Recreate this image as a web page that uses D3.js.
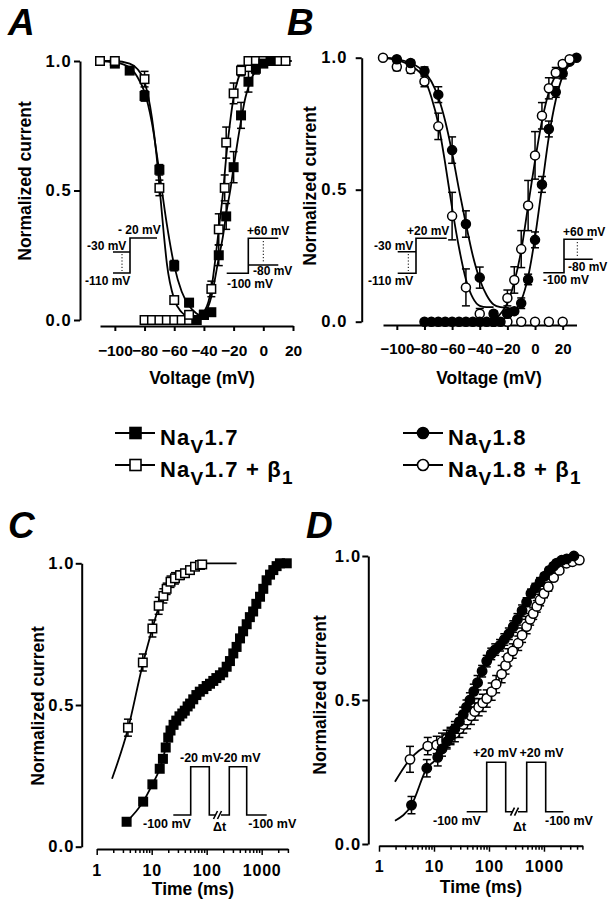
<!DOCTYPE html>
<html>
<head>
<meta charset="utf-8">
<script src="https://cdn.jsdelivr.net/npm/d3@7"></script>
<style>
  body { margin: 0; background: #fff; }
  svg text { font-family: "Liberation Sans", Arial, Helvetica, sans-serif; font-weight: bold; fill: #000; }
</style>
</head>
<body>
<svg id="fig" width="613" height="899"></svg>
<script>
// ---------- data ----------

// A : NaV1.7 steady-state inactivation / activation
const voltA17Inact = [-110, -100, -90, -80, -70, -60, -50, -40];
const nav17Inact = [1.0, 0.99, 0.963, 0.865, 0.58, 0.21, 0.067, 0.02];
const nav17InactErr = [0, 0, 0.01, 0.02, 0.02, 0.02, 0.015, 0];
const voltA17bInact = [-110, -100, -80, -70, -60, -50];
const nav17bInact = [1.0, 1.0, 0.93, 0.51, 0.077, 0.02];
const nav17bInactErr = [0, 0, 0.03, 0.03, 0.01, 0];

const voltA17Act = [-45, -40, -35, -30, -25, -20, -15, -10, -5, 0, 5];
const nav17Act = [0.0, 0.02, 0.03, 0.25, 0.40, 0.59, 0.79, 0.92, 0.97, 0.99, 1.0];
const nav17ActErr = [0, 0.01, 0.01, 0.04, 0.05, 0.06, 0.05, 0.04, 0.02, 0, 0];
const voltA17bAct = [-80, -75, -70, -65, -60, -55, -50, -45, -40, -35, -30, -26, -25, -20, -15, -10, -5, 0, 5, 10, 15];
const nav17bAct = [0, 0, 0, 0, 0, 0, 0, 0, 0.02, 0.12, 0.35, 0.51, 0.685, 0.875, 0.963, 1, 1, 1, 1, 1, 1];
const nav17bActErr = [0, 0, 0, 0, 0, 0, 0, 0, 0.01, 0.03, 0.06, 0.05, 0.06, 0.04, 0.02, 0, 0, 0, 0, 0, 0];

const fitA17Inact = [[-112, 1], [-100, 0.995], [-90, 0.975], [-85, 0.94], [-80, 0.88], [-75, 0.76], [-70, 0.57], [-65, 0.37], [-60, 0.21], [-55, 0.11], [-50, 0.055], [-45, 0.025], [-40, 0.01]];
const fitA17bInact = [[-112, 1], [-100, 1], [-90, 0.99], [-85, 0.97], [-80, 0.92], [-75, 0.78], [-72, 0.64], [-70, 0.52], [-67, 0.33], [-65, 0.22], [-60, 0.08], [-55, 0.03], [-50, 0.01], [-45, 0]];
const fitA17Act = [[-45, 0], [-40, 0.02], [-35, 0.09], [-30, 0.24], [-27, 0.33], [-25, 0.41], [-22, 0.51], [-20, 0.59], [-17, 0.7], [-15, 0.77], [-12, 0.86], [-10, 0.9], [-5, 0.965], [0, 0.99], [5, 1], [19, 1]];
const fitA17bAct = [[-45, 0], [-40, 0.03], [-37, 0.07], [-35, 0.12], [-32, 0.25], [-30, 0.35], [-27, 0.5], [-25, 0.63], [-22, 0.78], [-20, 0.86], [-17, 0.93], [-15, 0.96], [-10, 0.99], [-5, 1], [19, 1]];

// B : NaV1.8
const voltB18Inact = [-100, -90, -80, -70, -60, -50, -40, -30, -20];
const nav18Inact = [0.994, 0.98, 0.95, 0.86, 0.65, 0.37, 0.167, 0.03, 0.03];
const nav18InactErr = [0.01, 0.01, 0.015, 0.03, 0.05, 0.05, 0.04, 0.01, 0];
const voltB18bInact = [-110, -100, -90, -80, -70, -60, -50, -40, -30, -20, -10, 0, 10, 20];
const nav18bInact = [1.0, 0.966, 0.956, 0.91, 0.74, 0.40, 0.13, 0.03, 0, 0, 0, 0, 0, 0];
const nav18bInactErr = [0, 0.015, 0.015, 0.02, 0.05, 0.09, 0.07, 0.02, 0, 0, 0, 0, 0, 0];

const voltB18Act = [-80, -75, -70, -65, -60, -55, -50, -45, -40, -35, -30, -25, -20, -15, -10, -5, 0, 5, 10, 15, 20, 25, 30];
const nav18Act = [0, 0, 0, 0, 0, 0, 0, 0, 0, 0, 0, 0, 0.03, 0.04, 0.07, 0.16, 0.31, 0.52, 0.73, 0.87, 0.94, 0.985, 1.0];
const nav18ActErr = [0, 0, 0, 0, 0, 0, 0, 0, 0, 0, 0, 0, 0.01, 0.01, 0.02, 0.02, 0.03, 0.03, 0.03, 0.02, 0.02, 0.01, 0];
const voltB18bAct = [-20, -15, -10, -5, 0, 5, 10, 15, 20, 25];
const nav18bAct = [0.09, 0.158, 0.275, 0.44, 0.63, 0.78, 0.884, 0.943, 0.976, 0.994];
const nav18bActErr = [0.03, 0.05, 0.07, 0.095, 0.09, 0.05, 0.04, 0.02, 0.01, 0];

const fitB18Inact = [[-110, 1], [-100, 0.995], [-90, 0.98], [-80, 0.945], [-75, 0.91], [-70, 0.85], [-65, 0.76], [-60, 0.64], [-55, 0.5], [-50, 0.37], [-45, 0.25], [-40, 0.16], [-35, 0.1], [-30, 0.065], [-25, 0.055], [-15, 0.05]];
const fitB18bInact = [[-110, 1], [-100, 0.99], [-90, 0.97], [-80, 0.92], [-75, 0.85], [-70, 0.75], [-65, 0.6], [-60, 0.43], [-55, 0.28], [-50, 0.16], [-45, 0.09], [-40, 0.06], [-35, 0.055], [-30, 0.055]];
const fitB18Act = [[-25, 0.0], [-20, 0.02], [-15, 0.04], [-10, 0.08], [-5, 0.17], [0, 0.32], [5, 0.51], [10, 0.7], [15, 0.84], [20, 0.93], [25, 0.975], [30, 0.99]];
const fitB18bAct = [[-30, 0.0], [-25, 0.03], [-20, 0.07], [-15, 0.15], [-10, 0.27], [-5, 0.44], [0, 0.61], [5, 0.76], [10, 0.87], [15, 0.935], [20, 0.97], [25, 0.99]];

// C : NaV1.7 recovery from inactivation (ms)
const timeC17 = [3.5, 7, 10.3, 14, 16, 18, 20, 22, 25, 28, 32, 36, 40, 45, 50, 57, 65, 75, 87, 100, 115, 132, 150, 174, 200, 231, 265, 305, 350, 404, 460, 534, 610, 700, 800, 934, 1070, 1230, 1420, 1630, 1870, 2150, 2860];
const nav17Rec = [0.088, 0.159, 0.22, 0.275, 0.31, 0.35, 0.385, 0.41, 0.43, 0.445, 0.46, 0.47, 0.48, 0.495, 0.505, 0.52, 0.535, 0.547, 0.556, 0.567, 0.575, 0.585, 0.595, 0.605, 0.615, 0.635, 0.655, 0.682, 0.705, 0.735, 0.76, 0.785, 0.81, 0.83, 0.857, 0.882, 0.91, 0.94, 0.96, 0.976, 0.99, 1.0, 1.0];
const timeC17b = [3.7, 6.9, 10.3, 13.4, 16.3, 18.7, 22, 26.5, 32.7, 40.3, 49.7, 61.3, 75.5, 83];
const nav17bRec = [0.42, 0.65, 0.77, 0.85, 0.885, 0.91, 0.935, 0.947, 0.958, 0.965, 0.976, 0.988, 0.994, 0.996];
const nav17bRecErr = [0.03, 0.03, 0.03, 0.03, 0.025, 0.02, 0.02, 0.02, 0.015, 0.01, 0.01, 0.01, 0, 0];
const fitC17b = [[1.9, 0.24], [3.7, 0.415], [6.9, 0.645], [10.3, 0.77], [13.4, 0.845], [16.3, 0.89], [20, 0.92], [26, 0.95], [33, 0.965], [45, 0.98], [60, 0.99], [85, 1.0], [350, 1.0]];

// D : NaV1.8 recovery from inactivation (ms)
const timeD18 = [3.9, 7.4, 11.7, 14, 17, 20, 24, 29, 34, 39, 45, 53, 62, 75, 91, 110, 130, 159, 190, 230, 277, 330, 400, 484, 580, 700, 850, 1030, 1250, 1500, 1700, 2100, 2600, 3500];
const nav18Rec = [0.135, 0.263, 0.301, 0.33, 0.355, 0.375, 0.4, 0.425, 0.45, 0.475, 0.5, 0.53, 0.56, 0.6, 0.635, 0.66, 0.675, 0.69, 0.71, 0.73, 0.755, 0.78, 0.81, 0.84, 0.87, 0.89, 0.91, 0.93, 0.95, 0.965, 0.975, 0.985, 0.99, 1.0];
const nav18RecErr = [0.03, 0.03, 0.03, 0.025, 0.025, 0.025, 0.025, 0.025, 0.025, 0.025, 0.025, 0.025, 0.025, 0.02, 0.02, 0.02, 0.02, 0.02, 0.02, 0.02, 0.02, 0.02, 0.02, 0.015, 0.015, 0.015, 0.015, 0.01, 0.01, 0.01, 0.01, 0.01, 0.01, 0];
const timeD18b = [3.66, 7.7, 11.2, 14, 17, 20, 24, 29, 34, 40, 47, 55, 65, 77, 91, 112, 135, 170, 200, 224, 270, 340, 400, 484, 560, 637, 740, 850, 1000, 1200, 1500, 1900, 2570, 3300, 4400];
const nav18bRec = [0.294, 0.34, 0.344, 0.355, 0.365, 0.375, 0.385, 0.4, 0.415, 0.43, 0.445, 0.46, 0.475, 0.49, 0.505, 0.529, 0.555, 0.59, 0.62, 0.648, 0.67, 0.697, 0.725, 0.755, 0.78, 0.8, 0.825, 0.847, 0.87, 0.893, 0.925, 0.95, 0.975, 0.98, 0.986];
const nav18bRecErr = [0.045, 0.03, 0.03, 0.03, 0.03, 0.03, 0.03, 0.03, 0.03, 0.03, 0.03, 0.03, 0.03, 0.03, 0.03, 0.03, 0.03, 0.03, 0.03, 0.03, 0.025, 0.025, 0.025, 0.025, 0.02, 0.02, 0.02, 0.02, 0.015, 0.015, 0.01, 0.01, 0.01, 0.01, 0.01];
const fitD18Start = [1.95, 0.081];
const fitD18bStart = [1.95, 0.216];

// axis ticks
const yTicks = [0, 0.5, 1.0];
const voltTicksA = [-100, -80, -60, -40, -20, 0, 20];
const voltTicksB = [-100, -80, -60, -40, -20, 0, 20];
const timeMajor = [1, 10, 100, 1000];

// legend
const legendNames = ["1.7", "1.7", "1.8", "1.8"];
const legendBeta = [false, true, false, true];

// ---------- drawing ----------
const svg = d3.select("#fig");

const xA = d3.scaleLinear().domain([-110, 20]).range([100, 293]);
const yA = d3.scaleLinear().domain([0, 1]).range([320, 61]);
const xB = d3.scaleLinear().domain([-110, 30]).range([383, 576.5]);
const yB = d3.scaleLinear().domain([0, 1]).range([321.7, 57.7]);
const xC = d3.scaleLog().domain([1, 3000]).range([96.7, 287.9]);
const yC = d3.scaleLinear().domain([0, 1]).range([846.7, 563.3]);
const xD = d3.scaleLog().domain([1, 5000]).range([379, 582.4]);
const yD = d3.scaleLinear().domain([0, 1]).range([844, 556]);

function styleAxis(g, size) {
    g.select(".domain").attr("stroke", "#000").attr("stroke-width", 2);
    g.selectAll(".tick line").attr("stroke", "#000").attr("stroke-width", 2);
    g.selectAll("text")
        .attr("font-family", '"Liberation Sans", Arial, sans-serif')
        .attr("font-weight", "bold")
        .attr("font-size", size)
        .attr("fill", "#000");
}

function yAxis(sc, xPos, pad) {
    const g = svg.append("g")
        .attr("transform", "translate(" + xPos + ",0)")
        .call(d3.axisLeft(sc).tickValues(yTicks).tickFormat(d3.format(".1f")).tickSize(6).tickSizeOuter(0).tickPadding(pad));
    styleAxis(g, 16.5);
    g.selectAll("text").attr("letter-spacing", 1.2);
}

function xAxisLin(sc, yPos, ticks, pad, size) {
    const g = svg.append("g")
        .attr("transform", "translate(0," + yPos + ")")
        .call(d3.axisBottom(sc).tickValues(ticks).tickSize(5).tickSizeOuter(0).tickPadding(pad));
    styleAxis(g, size);
}

function xAxisLog(sc, yPos, pad) {
    const [lo, hi] = sc.domain();
    const vals = [];
    for (let k = 1; k <= hi; k *= 10)
        for (let m = 1; m < 10; m++) if (m * k >= lo && m * k <= hi) vals.push(m * k);
    const g = svg.append("g")
        .attr("transform", "translate(0," + yPos + ")")
        .call(d3.axisBottom(sc).tickValues(vals).tickSize(6).tickSizeOuter(0).tickPadding(pad)
            .tickFormat(d => timeMajor.includes(d) ? String(d) : ""));
    styleAxis(g, 16);
    g.selectAll(".tick line").attr("y2", d => timeMajor.includes(d) ? 6 : 4).attr("stroke-width", 1.5);
    g.selectAll("text").attr("letter-spacing", 0.8);
}

function fit(sc, scy, pts) {
    svg.append("path")
        .attr("d", d3.line().x(d => sc(d[0])).y(d => scy(d[1])).curve(d3.curveMonotoneX)(pts))
        .attr("fill", "none").attr("stroke", "#000").attr("stroke-width", 1.8);
}

function errorBars(sc, scy, xs, ys, errs) {
    const g = svg.append("g").attr("stroke", "#000").attr("stroke-width", 1.5);
    xs.forEach((v, i) => {
        const e = errs[i];
        if (!e) return;
        const px = sc(v), lo = scy(ys[i] - e), hi = scy(ys[i] + e);
        g.append("line").attr("x1", px).attr("x2", px).attr("y1", lo).attr("y2", hi);
        g.append("line").attr("x1", px - 4).attr("x2", px + 4).attr("y1", lo).attr("y2", lo);
        g.append("line").attr("x1", px - 4).attr("x2", px + 4).attr("y1", hi).attr("y2", hi);
    });
}

function points(sc, scy, xs, ys, shape, filled, size) {
    const g = svg.append("g");
    const data = xs.map((v, i) => [v, ys[i]]);
    if (shape === "square") {
        g.selectAll("rect").data(data).enter().append("rect")
            .attr("x", d => sc(d[0]) - size / 2)
            .attr("y", d => scy(d[1]) - size / 2)
            .attr("width", size).attr("height", size)
            .attr("fill", filled ? "#000" : "#fff")
            .attr("stroke", "#000").attr("stroke-width", 1.5);
    } else {
        g.selectAll("circle").data(data).enter().append("circle")
            .attr("cx", d => sc(d[0]))
            .attr("cy", d => scy(d[1]))
            .attr("r", size / 2)
            .attr("fill", filled ? "#000" : "#fff")
            .attr("stroke", "#000").attr("stroke-width", 1.5);
    }
}

function label(x, y, txt, size, anchor, extra) {
    const t = svg.append("text").attr("x", x).attr("y", y).attr("font-size", size)
        .attr("text-anchor", anchor || "start").text(txt);
    if (extra) extra(t);
    return t;
}

function yTitle(cx, cy) {
    svg.append("text")
        .attr("transform", "translate(" + cx + "," + cy + ") rotate(-90)")
        .attr("text-anchor", "middle").attr("font-size", 17.5)
        .text("Normalized current");
}

function protocol(d, dotted) {
    svg.append("path").attr("d", d).attr("fill", "none").attr("stroke", "#000").attr("stroke-width", 1.6);
    if (dotted) svg.append("path").attr("d", dotted).attr("fill", "none").attr("stroke", "#000")
        .attr("stroke-width", 1).attr("stroke-dasharray", "1.2,2");
}

// ---- panel A ----
yAxis(yA, 80, 2);
xAxisLin(xA, 326, voltTicksA, 14, 15.5);
fit(xA, yA, fitA17Inact);
fit(xA, yA, fitA17bInact);
fit(xA, yA, fitA17Act);
fit(xA, yA, fitA17bAct);
errorBars(xA, yA, voltA17Inact, nav17Inact, nav17InactErr);
errorBars(xA, yA, voltA17bInact, nav17bInact, nav17bInactErr);
errorBars(xA, yA, voltA17Act, nav17Act, nav17ActErr);
errorBars(xA, yA, voltA17bAct, nav17bAct, nav17bActErr);
points(xA, yA, voltA17bAct, nav17bAct, "square", false, 8.5);
points(xA, yA, voltA17Act, nav17Act, "square", true, 8.5);
points(xA, yA, voltA17Inact, nav17Inact, "square", true, 8.5);
points(xA, yA, voltA17bInact, nav17bInact, "square", false, 8.5);
yTitle(31, 181);
label(202, 384, "Voltage (mV)", 17.5, "middle");
label(8, 35, "A", 37, "start", t => t.attr("font-style", "italic"));
protocol("M113,273 H130 V238 H157 M113,252 H130", "M122,254 V271");
label(118, 233.5, "- 20 mV", 12);
label(87, 249.5, "-30 mV", 12);
label(85, 285, "-110 mV", 12);
protocol("M226.7,273.3 H248.3 V238.3 H278.3 M248.3,265 H278.3", "M263.3,241 V263");
label(247, 235, "+60 mV", 12);
label(253, 275, "-80 mV", 12);
label(227, 287.5, "-100 mV", 12);

// ---- panel B ----
yAxis(yB, 361.7, 8);
xAxisLin(xB, 325, voltTicksB, 13, 15);
fit(xB, yB, fitB18Inact);
fit(xB, yB, fitB18bInact);
fit(xB, yB, fitB18Act);
fit(xB, yB, fitB18bAct);
errorBars(xB, yB, voltB18Inact, nav18Inact, nav18InactErr);
errorBars(xB, yB, voltB18bInact, nav18bInact, nav18bInactErr);
errorBars(xB, yB, voltB18Act, nav18Act, nav18ActErr);
errorBars(xB, yB, voltB18bAct, nav18bAct, nav18bActErr);
points(xB, yB, voltB18bInact, nav18bInact, "circle", false, 9);
points(xB, yB, voltB18Act, nav18Act, "circle", true, 9);
points(xB, yB, voltB18Inact, nav18Inact, "circle", true, 9);
points(xB, yB, voltB18bAct, nav18bAct, "circle", false, 9);
yTitle(316, 186);
label(489, 384, "Voltage (mV)", 17.5, "middle");
label(287, 35, "B", 37, "start", t => t.attr("font-style", "italic"));
protocol("M397.7,273.3 H416 V238.3 H446.7 M397.7,251.7 H416", "M408.3,254 V271");
label(407, 235, "+20 mV", 12);
label(374, 249.5, "-30 mV", 12);
label(368, 285, "-110 mV", 12);
protocol("M543.3,272.7 H564 V239.3 H592.7 M564,259.3 H592.7", "M577.3,242 V257");
label(563, 236, "+60 mV", 12);
label(568, 270.5, "-80 mV", 12);
label(543, 284, "-100 mV", 12);

// ---- legend ----
const legX = [115, 115, 403, 403];
const legY = [433, 465, 433, 465];
const legShape = ["square", "square", "circle", "circle"];
legendNames.forEach((nm, i) => {
    svg.append("line").attr("x1", legX[i]).attr("x2", legX[i] + 40)
        .attr("y1", legY[i]).attr("y2", legY[i]).attr("stroke", "#000").attr("stroke-width", 2);
    const filled = !legendBeta[i];
    if (legShape[i] === "square")
        svg.append("rect").attr("x", legX[i] + 15).attr("y", legY[i] - 5.5).attr("width", 11).attr("height", 11)
            .attr("fill", filled ? "#000" : "#fff").attr("stroke", "#000").attr("stroke-width", 1.6);
    else
        svg.append("circle").attr("cx", legX[i] + 20).attr("cy", legY[i]).attr("r", 5.5)
            .attr("fill", filled ? "#000" : "#fff").attr("stroke", "#000").attr("stroke-width", 1.6);
    const t = svg.append("text").attr("x", legX[i] + 45).attr("y", legY[i] + 12)
        .attr("font-size", 22).attr("letter-spacing", 1.2);
    t.append("tspan").text("Na");
    t.append("tspan").attr("dy", 8).attr("font-size", 19).text("V");
    t.append("tspan").attr("dy", -8).text(nm + (legendBeta[i] ? " + β" : ""));
    if (legendBeta[i]) t.append("tspan").attr("dy", 7).attr("font-size", 19).text("1");
});

// ---- panel C ----
yAxis(yC, 81.7, 1);
xAxisLog(xC, 849, 10);
fit(xC, yC, fitC17b);
fit(xC, yC, timeC17.map((t, i) => [t, nav17Rec[i]]));
errorBars(xC, yC, timeC17b, nav17bRec, nav17bRecErr);
points(xC, yC, timeC17, nav17Rec, "square", true, 8.5);
points(xC, yC, timeC17b, nav17bRec, "square", false, 8.5);
yTitle(44, 706);
label(193, 895, "Time (ms)", 17.5, "middle");
label(8, 538, "C", 37, "start", t => t.attr("font-style", "italic"));
protocol("M173.3,815 H190.7 V766.7 H209.3 V815 H216 M221,815 H229.3 V766.7 H246.7 V815 H266.7", null);
protocol("M213.5,819 L217.5,811 M217.5,819 L221.5,811", null);
label(180, 761.5, "-20 mV", 12.5);
label(219.5, 761.5, "-20 mV", 12.5);
label(143, 828, "-100 mV", 12.5);
label(213, 831, "Δt", 12.5);
label(248.3, 828, "-100 mV", 12.5);

// ---- panel D ----
yAxis(yD, 368.3, 1);
xAxisLog(xD, 845.7, 9);
fit(xD, yD, [fitD18bStart].concat(timeD18b.map((t, i) => [t, nav18bRec[i]])));
fit(xD, yD, [fitD18Start].concat(timeD18.map((t, i) => [t, nav18Rec[i]])));
errorBars(xD, yD, timeD18b, nav18bRec, nav18bRecErr);
errorBars(xD, yD, timeD18, nav18Rec, nav18RecErr);
points(xD, yD, timeD18b, nav18bRec, "circle", false, 9.4);
points(xD, yD, timeD18, nav18Rec, "circle", true, 9.4);
yTitle(326, 695);
label(481, 893, "Time (ms)", 17.5, "middle");
label(306, 538, "D", 37, "start", t => t.attr("font-style", "italic"));
protocol("M466.7,811.7 H486.7 V762.3 H505.7 V811.7 H513 M518,811.7 H526.7 V762.3 H545.7 V811.7 H563.3", null);
protocol("M510.5,815.7 L514.5,807.7 M514.5,815.7 L518.5,807.7", null);
label(473, 757, "+20 mV", 12.5);
label(519.5, 757, "+20 mV", 12.5);
label(433, 825, "-100 mV", 12.5);
label(513, 831, "Δt", 12.5);
label(545, 825, "-100 mV", 12.5);
</script>
</body>
</html>
